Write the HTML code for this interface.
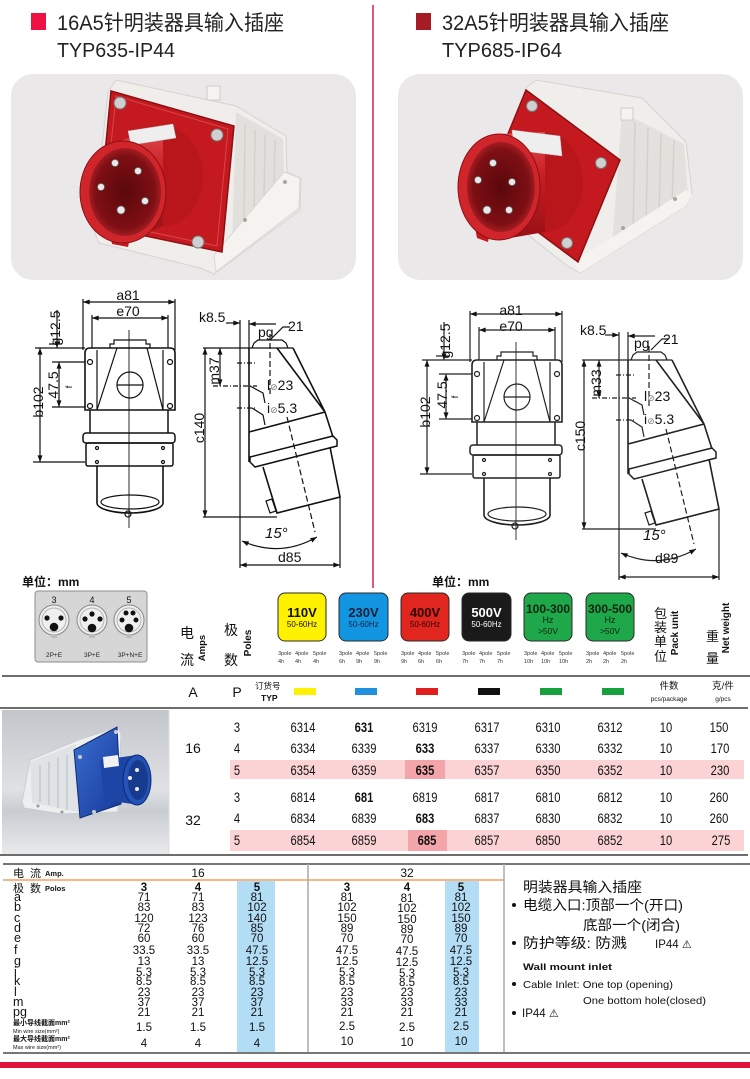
<!DOCTYPE html>
<html><head><meta charset="utf-8"><style>
html,body{margin:0;padding:0;background:#fff;}
svg{display:block;}
text{font-family:"Liberation Sans","Noto Sans CJK SC",sans-serif;}
.n{font-size:14px;transform:scaleX(.8);transform-box:fill-box;transform-origin:center;}
.v{font-size:11.5px;}
.d{font-size:14px;}
.s{font-size:5.5px;fill:#333;}
</style></head><body>
<svg width="750" height="1079" viewBox="0 0 750 1079" xmlns="http://www.w3.org/2000/svg" fill="#111">
<defs>
<marker id="a" viewBox="0 0 8 6" refX="8" refY="3" markerWidth="7" markerHeight="5" markerUnits="userSpaceOnUse" orient="auto-start-reverse"><path d="M0,0L8,3L0,6z" fill="#111"/></marker>
<radialGradient id="inR" cx="50%" cy="50%" r="55%"><stop offset="0" stop-color="#5a080c"/><stop offset=".75" stop-color="#7e0f14"/><stop offset="1" stop-color="#b8242a"/></radialGradient>
<linearGradient id="cyl" x1="0" y1="0" x2="0" y2="1"><stop offset="0" stop-color="#e04a4e"/><stop offset=".4" stop-color="#c81e24"/><stop offset="1" stop-color="#961015"/></linearGradient>
<linearGradient id="tbg" x1="0" y1="0" x2="0" y2="1"><stop offset="0" stop-color="#c3c6cb"/><stop offset=".55" stop-color="#dfe1e4"/><stop offset=".7" stop-color="#c9ccd1"/><stop offset="1" stop-color="#e8eaec"/></linearGradient>
<linearGradient id="blu" x1="0" y1="0" x2="1" y2="1"><stop offset="0" stop-color="#3a6fd0"/><stop offset="1" stop-color="#16389a"/></linearGradient>
</defs>

<!-- HEADER -->
<rect x="31" y="13" width="15" height="17" fill="#ee1144"/>
<text x="57" y="30" font-size="21" textLength="227" lengthAdjust="spacingAndGlyphs" fill="#222">16A5针明装器具输入插座</text>
<text x="57" y="57" font-size="20" textLength="118" lengthAdjust="spacingAndGlyphs" fill="#222">TYP635-IP44</text>
<rect x="416" y="13" width="15" height="17" fill="#a51c24"/>
<text x="442" y="30" font-size="21" textLength="227" lengthAdjust="spacingAndGlyphs" fill="#222">32A5针明装器具输入插座</text>
<text x="442" y="57" font-size="20" textLength="120" lengthAdjust="spacingAndGlyphs" fill="#222">TYP685-IP64</text>
<line x1="373" y1="5" x2="373" y2="588" stroke="#e21d47" stroke-width="1.5"/>

<!-- LEFT PHOTO -->
<rect x="11" y="74" width="345" height="206" rx="22" fill="#ebe8e9"/>
<polygon points="108,92 116,80 236,106 286,136 287,172 301,178 300,210 214,274 200,268 99,243 93,228" fill="#efeeeb" stroke="#d5d3cf"/>
<polygon points="236,112 283,139 284,176 232,246" fill="#e2e0dc"/>
<path d="M245,125L244,225 M255,130L254,215 M265,135L264,205 M275,140L274,192" stroke="#d3d1cc" stroke-width="1.5"/>
<polygon points="284,172 300,178 299,208 216,272 214,255" fill="#f4f3f0" stroke="#dad8d4"/>
<circle cx="285" cy="182" r="2" fill="#a9a6a0"/><circle cx="245" cy="220" r="2" fill="#a9a6a0"/>
<rect x="207" y="86" width="13" height="14" fill="#f4f3f0" stroke="#cfcdc8"/>
<polygon points="111,91 234,126 222,252 98,226" fill="#c41a1f" stroke="#8d0f13" stroke-width="1.5"/>
<polygon points="116,96 228,129 217,246 103,222" fill="none" stroke="#d9454a" stroke-width="1"/>
<circle cx="120" cy="103" r="6" fill="#cfcfcf" stroke="#777"/><circle cx="217" cy="135" r="6" fill="#cfcfcf" stroke="#777"/><circle cx="198" cy="242" r="6" fill="#cfcfcf" stroke="#777"/>
<ellipse cx="163" cy="176" rx="40" ry="50" fill="#b8161b"/>
<polygon points="123,140 163,126 163,226 123,242" fill="url(#cyl)"/>
<polygon points="128,131 173,124 176,138 131,145" fill="#eeeeee" stroke="#bbb" stroke-width=".5"/>
<polygon points="110,234 130,238 128,247 112,244" fill="#c41a1f"/>
<ellipse cx="123" cy="192" rx="43" ry="51" fill="#d0262b" stroke="#8d0f13"/>
<ellipse cx="125" cy="192" rx="36" ry="44" fill="url(#inR)"/>
<g fill="#e8e8e8" stroke="#666" stroke-width=".7"><circle cx="115" cy="163" r="3.5"/><circle cx="138" cy="171" r="3.5"/><circle cx="101" cy="187" r="3.5"/><circle cx="145" cy="201" r="3.5"/><circle cx="121" cy="210" r="4"/></g>

<!-- RIGHT PHOTO -->
<rect x="398" y="74" width="345" height="206" rx="22" fill="#ebe8e9"/>
<polygon points="526,88 536,80 642,98 686,142 692,192 686,206 580,273 566,265 484,200" fill="#efeeeb" stroke="#d5d3cf"/>
<polygon points="622,112 684,144 688,195 612,246" fill="#e3e1dd"/>
<path d="M635,122L633,235 M648,128L646,226 M661,134L659,218 M674,140L672,208" stroke="#d3d1cc" stroke-width="1.5"/>
<polygon points="686,190 692,194 686,206 580,273 574,262" fill="#f4f3f0"/>
<circle cx="675" cy="199" r="2" fill="#a9a6a0"/><circle cx="623" cy="228" r="2" fill="#a9a6a0"/>
<rect x="621" y="108" width="12" height="12" fill="#f4f3f0" stroke="#cfcdc8"/>
<polygon points="526,90 620,160 578,262 484,192" fill="#c41a1f" stroke="#8d0f13" stroke-width="1.5"/>
<circle cx="532" cy="106" r="5.5" fill="#cfcfcf" stroke="#777"/><circle cx="601" cy="163" r="5.5" fill="#cfcfcf" stroke="#777"/><circle cx="567" cy="243" r="5.5" fill="#cfcfcf" stroke="#777"/>
<ellipse cx="545" cy="182" rx="38" ry="50" fill="#b8161b"/>
<polygon points="499,134 545,132 545,232 499,240" fill="url(#cyl)"/>
<polygon points="512,130 560,136 562,156 514,150" fill="#eeeeee" stroke="#bbb" stroke-width=".5"/>
<polygon points="475,228 490,232 488,242 477,238" fill="#c41a1f"/>
<ellipse cx="499" cy="187" rx="41" ry="53" fill="#d0262b" stroke="#8d0f13"/>
<ellipse cx="501" cy="187" rx="34" ry="45" fill="url(#inR)"/>
<g fill="#e8e8e8" stroke="#666" stroke-width=".7"><circle cx="493" cy="163" r="3.5"/><circle cx="478" cy="180" r="3.5"/><circle cx="512" cy="182" r="3.5"/><circle cx="487" cy="210" r="4"/><circle cx="509" cy="210" r="3.5"/></g>

<!-- DRAWINGS: LEFT FRONT -->
<g fill="none" stroke="#111" stroke-width="1.2">
<path d="M83,299V350 M175,299V350 M92,315V348 M168,315V348"/>
<path d="M35,348H85 M49,344H62 M33,462H85 M52,362H85 M52,407H85"/>
<line x1="57" y1="310" x2="57" y2="348" marker-end="url(#a)"/>
<line x1="40" y1="348" x2="40" y2="462" marker-start="url(#a)" marker-end="url(#a)"/>
<line x1="59" y1="362" x2="59" y2="407" marker-start="url(#a)" marker-end="url(#a)"/>
<line x1="83" y1="302" x2="175" y2="302" marker-start="url(#a)" marker-end="url(#a)"/>
<line x1="92" y1="318" x2="168" y2="318" marker-start="url(#a)" marker-end="url(#a)"/>
<path d="M85,410V353Q85,348 90,348H170Q175,348 175,353V410Z" stroke-width="1.6"/>
<path d="M90,410V433 M168,410V433" stroke-width="1.5"/>
<rect x="83" y="433" width="92" height="10" rx="3" stroke-width="1.5"/>
<rect x="86" y="443" width="87" height="23" rx="2" stroke-width="1.5"/>
<path d="M110,348V344H114V340H146V344H150V348"/>
<path d="M117,348L97,410 M147,348L163,410 M97,350V410 M163,350V410"/>
<circle cx="130" cy="385" r="13"/>
<path d="M117,385H143"/>
<circle cx="90" cy="362" r="2.5"/><circle cx="170" cy="362" r="2.5"/><circle cx="90" cy="406" r="2.5"/><circle cx="170" cy="406" r="2.5"/>
<circle cx="97" cy="448" r="1.5"/><circle cx="163" cy="448" r="1.5"/><circle cx="97" cy="462" r="1.5"/><circle cx="163" cy="462" r="1.5"/>
<path d="M97,466V503A33,10 0 0 0 163,503V466" stroke-width="1.6"/>
<ellipse cx="130" cy="502" rx="29" ry="7"/>
<circle cx="128" cy="514" r="3"/>
<line x1="129" y1="330" x2="129" y2="528" stroke-width=".9"/>
</g>
<!-- LEFT SIDE -->
<g fill="none" stroke="#111" stroke-width="1.2">
<path d="M240,320V568 M249,320V348 M203,348H293"/>
<line x1="226" y1="323" x2="240" y2="323" marker-end="url(#a)"/>
<line x1="276" y1="324" x2="249" y2="324" marker-end="url(#a)"/>
<path d="M249,348V462 M293,348L325,412L333,437 M277,348L325,412 M249,432L325,412" stroke-width="1.6"/>
<path d="M252,348L254,343L258,340H282L286,343L288,348"/>
<path d="M250,457L333,436L337,440L337,446L255,467L250,462Z" stroke-width="1.5"/>
<path d="M263,467L277,513L340,497L330,447" stroke-width="1.6"/>
<path d="M266,501L272,499L276,511L270,513Z"/>
<path d="M270,334V396 M287,417L315,532" stroke-dasharray="6,3"/>
<path d="M237,363H256 M213,386H257 M237,408H256" stroke-dasharray="5,2,1,2"/>
<path d="M250,386L263,393L265,403 M252,408L263,415L265,425"/>
<line x1="220" y1="348" x2="220" y2="386" marker-start="url(#a)" marker-end="url(#a)"/>
<line x1="205" y1="348" x2="205" y2="517" marker-start="url(#a)" marker-end="url(#a)"/>
<path d="M203,517H277 M340,497V568"/>
<path d="M272,338L283,327H290"/>
<path d="M242,541Q280,558 317,537" marker-start="url(#a)" marker-end="url(#a)"/>
<line x1="240" y1="565" x2="340" y2="565" marker-start="url(#a)" marker-end="url(#a)"/>
</g>
<!-- LEFT LABELS -->
<text class="d" x="128" y="300" text-anchor="middle">a81</text>
<text class="d" x="128" y="316" text-anchor="middle">e70</text>
<text class="d" font-size="13" transform="translate(60,328) rotate(-90)" text-anchor="middle">g12.5</text>
<text class="d" transform="translate(43,402) rotate(-90)" text-anchor="middle">b102</text>
<text class="d" transform="translate(58,385) rotate(-90)" text-anchor="middle">47.5</text>
<text font-size="9" transform="translate(72,387) rotate(-90)" text-anchor="middle">f</text>
<text class="d" x="199" y="322">k8.5</text>
<text class="d" x="258" y="337">pg</text>
<text class="d" x="288" y="331">21</text>
<text class="d" transform="translate(219,371) rotate(-90)" text-anchor="middle">m37</text>
<text class="d" x="267" y="390">l<tspan font-size="9" fill="#777" font-family="DejaVu Sans">⊘</tspan>23</text>
<text class="d" x="267" y="413">i<tspan font-size="9" fill="#777" font-family="DejaVu Sans">⊘</tspan>5.3</text>
<text class="d" transform="translate(204,428) rotate(-90)" text-anchor="middle">c140</text>
<text x="265" y="538" font-size="15" font-style="italic">15°</text>
<text class="d" x="278" y="562">d85</text>
<text x="22" y="586" font-size="12" font-weight="bold">单位：mm</text>

<!-- RIGHT FRONT -->
<g transform="translate(387,12)" fill="none" stroke="#222" stroke-width="1.2">
<path d="M83,299V350 M175,299V350 M92,315V348 M168,315V348"/>
<path d="M35,348H85 M49,344H62 M33,462H85 M52,362H85 M52,407H85"/>
<line x1="57" y1="310" x2="57" y2="348" marker-end="url(#a)"/>
<line x1="40" y1="348" x2="40" y2="462" marker-start="url(#a)" marker-end="url(#a)"/>
<line x1="59" y1="362" x2="59" y2="407" marker-start="url(#a)" marker-end="url(#a)"/>
<line x1="83" y1="302" x2="175" y2="302" marker-start="url(#a)" marker-end="url(#a)"/>
<line x1="92" y1="318" x2="168" y2="318" marker-start="url(#a)" marker-end="url(#a)"/>
<path d="M85,410V353Q85,348 90,348H170Q175,348 175,353V410Z" stroke-width="1.6"/>
<path d="M90,410V433 M168,410V433" stroke-width="1.5"/>
<rect x="83" y="433" width="92" height="10" rx="3" stroke-width="1.5"/>
<rect x="86" y="443" width="87" height="23" rx="2" stroke-width="1.5"/>
<path d="M110,348V344H114V340H146V344H150V348"/>
<path d="M117,348L97,410 M147,348L163,410 M97,350V410 M163,350V410"/>
<circle cx="130" cy="385" r="13"/>
<path d="M117,385H143"/>
<circle cx="90" cy="362" r="2.5"/><circle cx="170" cy="362" r="2.5"/><circle cx="90" cy="406" r="2.5"/><circle cx="170" cy="406" r="2.5"/>
<circle cx="97" cy="448" r="1.5"/><circle cx="163" cy="448" r="1.5"/><circle cx="97" cy="462" r="1.5"/><circle cx="163" cy="462" r="1.5"/>
<path d="M97,466V503A33,10 0 0 0 163,503V466" stroke-width="1.6"/>
<ellipse cx="130" cy="502" rx="29" ry="7"/>
<circle cx="128" cy="514" r="3"/>
<line x1="129" y1="330" x2="129" y2="528" stroke-width=".9"/>
</g>
<!-- RIGHT SIDE -->
<g transform="translate(379,12)" fill="none" stroke="#222" stroke-width="1.2">
<path d="M240,320V568 M249,320V348 M203,348H293"/>
<line x1="226" y1="323" x2="240" y2="323" marker-end="url(#a)"/>
<line x1="276" y1="324" x2="249" y2="324" marker-end="url(#a)"/>
<path d="M249,348V462 M293,348L325,412L333,437 M277,348L325,412 M249,432L325,412" stroke-width="1.6"/>
<path d="M252,348L254,343L258,340H282L286,343L288,348"/>
<path d="M250,457L333,436L337,440L337,446L255,467L250,462Z" stroke-width="1.5"/>
<path d="M263,467L277,513L340,497L330,447" stroke-width="1.6"/>
<path d="M266,501L272,499L276,511L270,513Z"/>
<path d="M270,334V396 M287,417L315,532" stroke-dasharray="6,3"/>
<path d="M237,363H256 M213,386H257 M237,408H256" stroke-dasharray="5,2,1,2"/>
<path d="M250,386L263,393L265,403 M252,408L263,415L265,425"/>
<line x1="220" y1="348" x2="220" y2="386" marker-start="url(#a)" marker-end="url(#a)"/>
<line x1="205" y1="348" x2="205" y2="517" marker-start="url(#a)" marker-end="url(#a)"/>
<path d="M203,517H277 M340,497V568"/>
<path d="M272,338L283,327H290"/>
<path d="M242,541Q280,558 317,537" marker-start="url(#a)" marker-end="url(#a)"/>
<line x1="240" y1="565" x2="340" y2="565" marker-start="url(#a)" marker-end="url(#a)"/>
</g>
<!-- RIGHT LABELS -->
<text class="d" x="511" y="315" text-anchor="middle">a81</text>
<text class="d" x="511" y="331" text-anchor="middle">e70</text>
<text class="d" font-size="13" transform="translate(450,341) rotate(-90)" text-anchor="middle">g12.5</text>
<text class="d" transform="translate(430,412) rotate(-90)" text-anchor="middle">b102</text>
<text class="d" transform="translate(447,395) rotate(-90)" text-anchor="middle">47.5</text>
<text font-size="9" transform="translate(458,397) rotate(-90)" text-anchor="middle">f</text>
<text class="d" x="580" y="335">k8.5</text>
<text class="d" x="634" y="348">pg</text>
<text class="d" x="663" y="344">21</text>
<text class="d" transform="translate(601,383) rotate(-90)" text-anchor="middle">m33</text>
<text class="d" x="644" y="401">l<tspan font-size="9" fill="#777" font-family="DejaVu Sans">⊘</tspan>23</text>
<text class="d" x="644" y="424">i<tspan font-size="9" fill="#777" font-family="DejaVu Sans">⊘</tspan>5.3</text>
<text class="d" transform="translate(585,436) rotate(-90)" text-anchor="middle">c150</text>
<text x="643" y="540" font-size="15" font-style="italic">15°</text>
<text class="d" x="655" y="563">d89</text>
<text x="432" y="586" font-size="12" font-weight="bold">单位：mm</text>

<!-- LEGEND ROW -->
<rect x="35" y="591" width="112" height="71" rx="3" fill="#d6d6d6" stroke="#8e8e8e"/>
<text x="54" y="603" font-size="9" text-anchor="middle">3</text>
<text x="92" y="603" font-size="9" text-anchor="middle">4</text>
<text x="129" y="603" font-size="9" text-anchor="middle">5</text>
<g stroke="#888"><circle cx="54" cy="620" r="15" fill="#efefef"/><circle cx="92" cy="620" r="15" fill="#efefef"/><circle cx="129" cy="620" r="15" fill="#efefef"/></g>
<g fill="none" stroke="#b5b5b5"><circle cx="54" cy="620" r="12"/><circle cx="92" cy="620" r="12"/><circle cx="129" cy="620" r="12"/></g>
<g fill="#bdbdbd"><rect x="51" y="634" width="6" height="4"/><rect x="89" y="634" width="6" height="4"/><rect x="126" y="634" width="6" height="4"/></g>
<g fill="#111">
<circle cx="47" cy="618" r="2.6"/><circle cx="61" cy="618" r="2.6"/><circle cx="54" cy="627" r="4.3"/>
<circle cx="85" cy="619" r="2.6"/><circle cx="92" cy="614" r="2.6"/><circle cx="100" cy="619" r="2.6"/><circle cx="92" cy="628" r="4.3"/>
<circle cx="122" cy="620" r="2.5"/><circle cx="126" cy="613" r="2.5"/><circle cx="133" cy="613" r="2.5"/><circle cx="136" cy="620" r="2.5"/><circle cx="129" cy="628" r="4.3"/>
</g>
<text x="54" y="657" font-size="6.5" text-anchor="middle" fill="#222">2P+E</text>
<text x="92" y="657" font-size="6.5" text-anchor="middle" fill="#222">3P+E</text>
<text x="130" y="657" font-size="6.5" text-anchor="middle" fill="#222">3P+N+E</text>

<text x="180" y="638" font-size="14">电</text>
<text x="180" y="665" font-size="14">流</text>
<text font-size="9.5" font-weight="bold" transform="translate(205,648) rotate(-90)" text-anchor="middle">Amps</text>
<text x="224" y="635" font-size="14">极</text>
<text x="224" y="665" font-size="14">数</text>
<text font-size="10" font-weight="bold" transform="translate(251,643) rotate(-90)" text-anchor="middle">Poles</text>

<g stroke="#2a2a2a" stroke-width="1">
<rect x="278" y="593" width="48" height="48" rx="7" fill="#fff200"/>
<rect x="339" y="593" width="49" height="48" rx="7" fill="#1296e2"/>
<rect x="401" y="593" width="48" height="48" rx="7" fill="#e1251f"/>
<rect x="462" y="593" width="49" height="48" rx="7" fill="#1a1a1a"/>
<rect x="524" y="593" width="48" height="48" rx="7" fill="#1fa84a"/>
<rect x="586" y="593" width="48" height="48" rx="7" fill="#1fa84a"/>
</g>
<text x="302" y="617" font-size="13" font-weight="bold" text-anchor="middle" fill="#111">110V</text>
<text x="302" y="627" font-size="8" text-anchor="middle" fill="#111">50-60Hz</text>
<text x="363.5" y="617" font-size="13" font-weight="bold" text-anchor="middle" fill="#16203a">230V</text>
<text x="363.5" y="627" font-size="8" text-anchor="middle" fill="#16203a">50-60Hz</text>
<text x="425" y="617" font-size="13" font-weight="bold" text-anchor="middle" fill="#2a0505">400V</text>
<text x="425" y="627" font-size="8" text-anchor="middle" fill="#2a0505">50-60Hz</text>
<text x="486.5" y="617" font-size="13" font-weight="bold" text-anchor="middle" fill="#ffffff">500V</text>
<text x="486.5" y="627" font-size="8" text-anchor="middle" fill="#ffffff">50-60Hz</text>
<text x="548" y="613" font-size="12" font-weight="bold" text-anchor="middle" fill="#0b2410">100-300</text>
<text x="548" y="623" font-size="9" text-anchor="middle" fill="#0b2410">Hz</text>
<text x="548" y="634" font-size="8.5" text-anchor="middle" fill="#0b2410">&gt;50V</text>
<text x="610" y="613" font-size="12" font-weight="bold" text-anchor="middle" fill="#0b2410">300-500</text>
<text x="610" y="623" font-size="9" text-anchor="middle" fill="#0b2410">Hz</text>
<text x="610" y="634" font-size="8.5" text-anchor="middle" fill="#0b2410">&gt;50V</text>

<g>
<text class="s" x="278" y="655">3pole</text><text class="s" x="295" y="655">4pole</text><text class="s" x="313" y="655">5pole</text>
<text class="s" x="278" y="663">4h</text><text class="s" x="295" y="663">4h</text><text class="s" x="313" y="663">4h</text>
<text class="s" x="339" y="655">3pole</text><text class="s" x="356" y="655">4pole</text><text class="s" x="374" y="655">5pole</text>
<text class="s" x="339" y="663">6h</text><text class="s" x="356" y="663">9h</text><text class="s" x="374" y="663">9h</text>
<text class="s" x="401" y="655">3pole</text><text class="s" x="418" y="655">4pole</text><text class="s" x="436" y="655">5pole</text>
<text class="s" x="401" y="663">9h</text><text class="s" x="418" y="663">6h</text><text class="s" x="436" y="663">6h</text>
<text class="s" x="462" y="655">3pole</text><text class="s" x="479" y="655">4pole</text><text class="s" x="497" y="655">5pole</text>
<text class="s" x="462" y="663">7h</text><text class="s" x="479" y="663">7h</text><text class="s" x="497" y="663">7h</text>
<text class="s" x="524" y="655">3pole</text><text class="s" x="541" y="655">4pole</text><text class="s" x="559" y="655">5pole</text>
<text class="s" x="524" y="663">10h</text><text class="s" x="541" y="663">10h</text><text class="s" x="559" y="663">10h</text>
<text class="s" x="586" y="655">3pole</text><text class="s" x="603" y="655">4pole</text><text class="s" x="621" y="655">5pole</text>
<text class="s" x="586" y="663">2h</text><text class="s" x="603" y="663">2h</text><text class="s" x="621" y="663">2h</text>
</g>

<text x="654" y="618" font-size="13">包</text>
<text x="654" y="632" font-size="13">装</text>
<text x="654" y="646" font-size="13">单</text>
<text x="654" y="661" font-size="13">位</text>
<text font-size="10" font-weight="bold" transform="translate(678,633) rotate(-90)" text-anchor="middle">Pack unit</text>
<text x="706" y="641" font-size="13">重</text>
<text x="706" y="663" font-size="13">量</text>
<text font-size="10" font-weight="bold" transform="translate(729,628) rotate(-90)" text-anchor="middle">Net weight</text>

<line x1="2" y1="676" x2="750" y2="676" stroke="#6d6d6d" stroke-width="2"/>

<!-- ORDER TABLE HEADER -->
<text x="193" y="697" font-size="14" text-anchor="middle">A</text>
<text x="237" y="697" font-size="14" text-anchor="middle">P</text>
<text x="255" y="689" font-size="8.5">订货号</text>
<text x="261" y="701" font-size="8.5" font-weight="bold">TYP</text>
<rect x="294" y="688" width="22" height="7" fill="#fff200"/>
<rect x="355" y="688" width="22" height="7" fill="#1e90e0"/>
<rect x="416" y="688" width="22" height="7" fill="#e01e1e"/>
<rect x="478" y="688" width="22" height="7" fill="#111"/>
<rect x="540" y="688" width="22" height="7" fill="#16a03e"/>
<rect x="602" y="688" width="22" height="7" fill="#16a03e"/>
<text x="669" y="689" font-size="9.5" text-anchor="middle">件数</text>
<text x="669" y="701" font-size="6.5" text-anchor="middle">pcs/package</text>
<text x="723" y="689" font-size="9.5" text-anchor="middle">克/件</text>
<text x="723" y="701" font-size="6.5" text-anchor="middle">g/pcs</text>
<line x1="0" y1="708" x2="748" y2="708" stroke="#6d6d6d" stroke-width="2"/>

<!-- table image -->
<rect x="2" y="710" width="167" height="144" fill="url(#tbg)"/>
<line x1="169" y1="710" x2="169" y2="854" stroke="#ddd"/>
<polygon points="22,802 30,760 78,740 118,727 121,734 118,812 62,814 24,808" fill="#eceeef" stroke="#c9ccd0"/>
<polygon points="30,762 76,744 80,812 32,803" fill="#e0e3e6"/>
<path d="M40,765V802 M49,762V805 M58,758V808 M67,755V810" stroke="#c4c8cc" stroke-width="1.5"/>
<circle cx="38" cy="806" r="1.5" fill="#999"/><circle cx="62" cy="812" r="1.5" fill="#999"/>
<polygon points="74,750 117,727 121,804 80,818" fill="url(#blu)" stroke="#0f2a72"/>
<circle cx="80" cy="757" r="2" fill="#ccc"/><circle cx="116" cy="732" r="2" fill="#ccc"/><circle cx="94" cy="812" r="2" fill="#ccc"/>
<polygon points="100,760 137,755 140,805 104,800" fill="#1c45a6"/>
<polygon points="103,757 118,755 119,766 104,768" fill="#f2f2f2"/>
<ellipse cx="137" cy="780" rx="14" ry="25" fill="#2352b8" stroke="#0f2a72"/>
<ellipse cx="138" cy="780" rx="10" ry="20" fill="#173c8f"/>
<g fill="#eee"><circle cx="137" cy="770" r="2"/><circle cx="130" cy="778" r="2"/><circle cx="137" cy="789" r="2"/></g>

<!-- pink rows -->
<rect x="230" y="760" width="514" height="19" fill="#fbd3d5"/>
<rect x="405" y="760" width="40" height="19" fill="#f4a5aa"/>
<rect x="230" y="830" width="514" height="21" fill="#fbd3d5"/>
<rect x="408" y="830" width="39" height="21" fill="#f4a5aa"/>

<text x="193" y="753" font-size="14" text-anchor="middle">16</text>
<text x="193" y="825" font-size="14" text-anchor="middle">32</text>
<g text-anchor="middle">
<text class="n" x="237" y="732">3</text><text class="n" x="303" y="732">6314</text><text class="n" x="364" y="732" font-weight="bold">631</text><text class="n" x="425" y="732">6319</text><text class="n" x="487" y="732">6317</text><text class="n" x="548" y="732">6310</text><text class="n" x="610" y="732">6312</text><text class="n" x="666" y="732">10</text><text class="n" x="719" y="732">150</text>
<text class="n" x="237" y="753">4</text><text class="n" x="303" y="753">6334</text><text class="n" x="364" y="753">6339</text><text class="n" x="425" y="753" font-weight="bold">633</text><text class="n" x="487" y="753">6337</text><text class="n" x="548" y="753">6330</text><text class="n" x="610" y="753">6332</text><text class="n" x="666" y="753">10</text><text class="n" x="720" y="753">170</text>
<text class="n" x="237" y="775">5</text><text class="n" x="303" y="775">6354</text><text class="n" x="364" y="775">6359</text><text class="n" x="425" y="775" font-weight="bold">635</text><text class="n" x="487" y="775">6357</text><text class="n" x="548" y="775">6350</text><text class="n" x="610" y="775">6352</text><text class="n" x="666" y="775">10</text><text class="n" x="720" y="775">230</text>
<text class="n" x="237" y="802">3</text><text class="n" x="303" y="802">6814</text><text class="n" x="364" y="802" font-weight="bold">681</text><text class="n" x="425" y="802">6819</text><text class="n" x="487" y="802">6817</text><text class="n" x="548" y="802">6810</text><text class="n" x="610" y="802">6812</text><text class="n" x="666" y="802">10</text><text class="n" x="719" y="802">260</text>
<text class="n" x="237" y="823">4</text><text class="n" x="303" y="823">6834</text><text class="n" x="364" y="823">6839</text><text class="n" x="425" y="823" font-weight="bold">683</text><text class="n" x="487" y="823">6837</text><text class="n" x="548" y="823">6830</text><text class="n" x="610" y="823">6832</text><text class="n" x="666" y="823">10</text><text class="n" x="719" y="823">260</text>
<text class="n" x="237" y="845">5</text><text class="n" x="303" y="845">6854</text><text class="n" x="364" y="845">6859</text><text class="n" x="427" y="845" font-weight="bold">685</text><text class="n" x="487" y="845">6857</text><text class="n" x="548" y="845">6850</text><text class="n" x="610" y="845">6852</text><text class="n" x="666" y="845">10</text><text class="n" x="721" y="845">275</text>
</g>
<line x1="0" y1="855" x2="748" y2="855" stroke="#6d6d6d" stroke-width="2"/>

<!-- SPEC TABLE -->
<line x1="3" y1="864" x2="750" y2="864" stroke="#777" stroke-width="2"/>
<line x1="3" y1="880" x2="504" y2="880" stroke="#f2a058" stroke-width="1.5"/>
<rect x="237" y="881" width="38" height="171" fill="#b3dcf5"/>
<rect x="445" y="881" width="34" height="171" fill="#b3dcf5"/>
<line x1="308" y1="864" x2="308" y2="1053" stroke="#aaa" stroke-width="1.5"/>
<line x1="504" y1="864" x2="504" y2="1053" stroke="#aaa" stroke-width="1.5"/>
<line x1="3" y1="1053" x2="750" y2="1053" stroke="#777" stroke-width="2"/>
<rect x="0" y="1062" width="750" height="6" fill="#e0103c"/>

<text x="13" y="877" font-size="11">电</text><text x="30" y="877" font-size="11">流</text>
<text x="45" y="876" font-size="7.5" font-weight="bold">Amp.</text>
<text x="198" y="877" font-size="12" text-anchor="middle">16</text>
<text x="407" y="877" font-size="12" text-anchor="middle">32</text>
<text x="13" y="892" font-size="11">极</text><text x="30" y="892" font-size="11">数</text>
<text x="45" y="891" font-size="7.5" font-weight="bold">Polos</text>
<g font-size="12.5">
<text x="14" y="901">a</text><text x="14" y="911">b</text><text x="14" y="922">c</text><text x="14" y="932">d</text><text x="14" y="942">e</text><text x="14" y="954">f</text><text x="14" y="965">g</text><text x="14" y="976">i</text><text x="14" y="985">k</text><text x="14" y="996">l</text><text x="13" y="1006">m</text><text x="13" y="1016">pg</text>
</g>
<text x="13" y="1025" font-size="7" font-weight="bold">最小导线截面mm²</text>
<text x="13" y="1033" font-size="5.5">Min wire size(mm²)</text>
<text x="13" y="1041" font-size="7" font-weight="bold">最大导线截面mm²</text>
<text x="13" y="1049" font-size="5.5">Max wire size(mm²)</text>

<g text-anchor="middle">
<text class="v" x="144" y="891" font-weight="bold">3</text><text class="v" x="198" y="891" font-weight="bold">4</text><text class="v" x="257" y="891" font-weight="bold">5</text><text class="v" x="347" y="891" font-weight="bold">3</text><text class="v" x="407" y="891" font-weight="bold">4</text><text class="v" x="461" y="891" font-weight="bold">5</text>
<text class="v" x="144" y="901">71</text><text class="v" x="198" y="901">71</text><text class="v" x="257" y="901">81</text><text class="v" x="347" y="901">81</text><text class="v" x="407" y="902">81</text><text class="v" x="461" y="901">81</text>
<text class="v" x="144" y="911">83</text><text class="v" x="198" y="911">83</text><text class="v" x="257" y="911">102</text><text class="v" x="347" y="911">102</text><text class="v" x="407" y="912">102</text><text class="v" x="461" y="911">102</text>
<text class="v" x="144" y="922">120</text><text class="v" x="198" y="922">123</text><text class="v" x="257" y="922">140</text><text class="v" x="347" y="922">150</text><text class="v" x="407" y="923">150</text><text class="v" x="461" y="922">150</text>
<text class="v" x="144" y="932">72</text><text class="v" x="198" y="932">76</text><text class="v" x="257" y="932">85</text><text class="v" x="347" y="932">89</text><text class="v" x="407" y="933">89</text><text class="v" x="461" y="932">89</text>
<text class="v" x="144" y="942">60</text><text class="v" x="198" y="942">60</text><text class="v" x="257" y="942">70</text><text class="v" x="347" y="942">70</text><text class="v" x="407" y="943">70</text><text class="v" x="461" y="942">70</text>
<text class="v" x="144" y="954">33.5</text><text class="v" x="198" y="954">33.5</text><text class="v" x="257" y="954">47.5</text><text class="v" x="347" y="954">47.5</text><text class="v" x="407" y="955">47.5</text><text class="v" x="461" y="954">47.5</text>
<text class="v" x="144" y="965">13</text><text class="v" x="198" y="965">13</text><text class="v" x="257" y="965">12.5</text><text class="v" x="347" y="965">12.5</text><text class="v" x="407" y="966">12.5</text><text class="v" x="461" y="965">12.5</text>
<text class="v" x="144" y="976">5.3</text><text class="v" x="198" y="976">5.3</text><text class="v" x="257" y="976">5.3</text><text class="v" x="347" y="976">5.3</text><text class="v" x="407" y="977">5.3</text><text class="v" x="461" y="976">5.3</text>
<text class="v" x="144" y="985">8.5</text><text class="v" x="198" y="985">8.5</text><text class="v" x="257" y="985">8.5</text><text class="v" x="347" y="985">8.5</text><text class="v" x="407" y="986">8.5</text><text class="v" x="461" y="985">8.5</text>
<text class="v" x="144" y="996">23</text><text class="v" x="198" y="996">23</text><text class="v" x="257" y="996">23</text><text class="v" x="347" y="996">23</text><text class="v" x="407" y="996">23</text><text class="v" x="461" y="996">23</text>
<text class="v" x="144" y="1006">37</text><text class="v" x="198" y="1006">37</text><text class="v" x="257" y="1006">37</text><text class="v" x="347" y="1006">33</text><text class="v" x="407" y="1006">33</text><text class="v" x="461" y="1006">33</text>
<text class="v" x="144" y="1016">21</text><text class="v" x="198" y="1016">21</text><text class="v" x="257" y="1016">21</text><text class="v" x="347" y="1016">21</text><text class="v" x="407" y="1016">21</text><text class="v" x="461" y="1016">21</text>
<text class="v" x="144" y="1031">1.5</text><text class="v" x="198" y="1031">1.5</text><text class="v" x="257" y="1031">1.5</text><text class="v" x="347" y="1030">2.5</text><text class="v" x="407" y="1031">2.5</text><text class="v" x="461" y="1030">2.5</text>
<text class="v" x="144" y="1047">4</text><text class="v" x="198" y="1047">4</text><text class="v" x="257" y="1047">4</text><text class="v" x="347" y="1045">10</text><text class="v" x="407" y="1046">10</text><text class="v" x="461" y="1045">10</text>
</g>

<!-- right notes -->
<text x="523" y="892" font-size="14" textLength="119" lengthAdjust="spacingAndGlyphs">明装器具输入插座</text>
<circle cx="514" cy="905" r="2" fill="#111"/>
<text x="523" y="910" font-size="14" textLength="160" lengthAdjust="spacingAndGlyphs">电缆入口:顶部一个(开口)</text>
<text x="583" y="930" font-size="14" textLength="97" lengthAdjust="spacingAndGlyphs">底部一个(闭合)</text>
<circle cx="514" cy="943" r="2" fill="#111"/>
<text x="523" y="948" font-size="14" textLength="104" lengthAdjust="spacingAndGlyphs">防护等级: 防溅</text>
<text x="655" y="948" font-size="11.5">IP44 <tspan font-family="DejaVu Sans" font-size="11">⚠</tspan></text>
<text x="523" y="970" font-size="9.5" font-weight="bold" textLength="89" lengthAdjust="spacingAndGlyphs">Wall mount inlet</text>
<circle cx="514" cy="984" r="2" fill="#111"/>
<text x="523" y="988" font-size="10.5" textLength="150" lengthAdjust="spacingAndGlyphs">Cable Inlet: One top (opening)</text>
<text x="583" y="1004" font-size="10.5" textLength="123" lengthAdjust="spacingAndGlyphs">One bottom hole(closed)</text>
<circle cx="514" cy="1013" r="2" fill="#111"/>
<text x="522" y="1017" font-size="11.5">IP44 <tspan font-family="DejaVu Sans" font-size="11">⚠</tspan></text>
</svg>
</body></html>
